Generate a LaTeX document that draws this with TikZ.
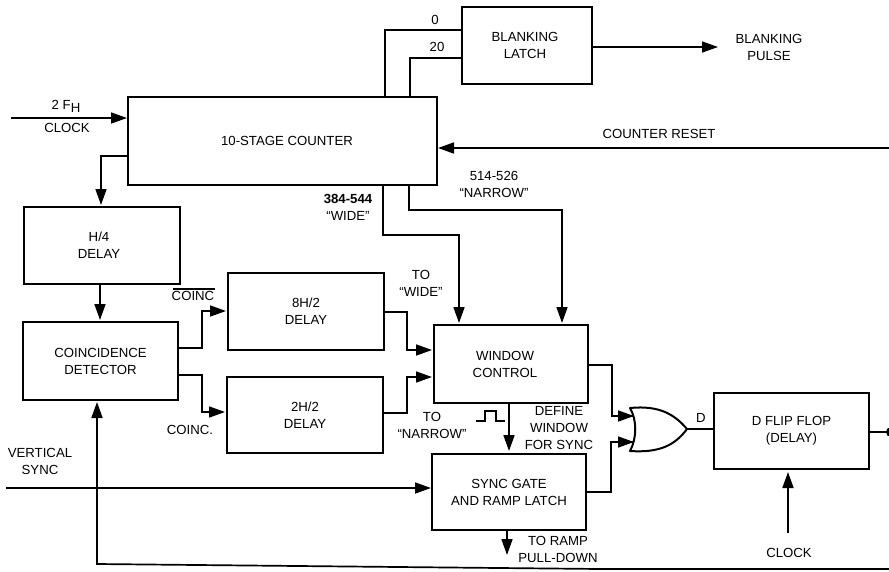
\documentclass[tikz,border=0pt]{standalone}
\usepackage{fontspec}
\setmainfont{Liberation Sans}
\usetikzlibrary{arrows.meta}
\tikzset{
 x=1pt,y=-1pt,
 wire/.style={line width=1.7pt,line join=miter},
 arr/.style={wire,-{Triangle[length=16pt,width=11pt]}},
 blk/.style={draw,line width=2pt,inner sep=0,anchor=north west,align=center,font=\fontsize{13.2}{17}\selectfont},
 lbl/.style={inner sep=0,align=center,font=\fontsize{13.2}{17}\selectfont},
}
\newcommand{\blkbox}[6]{\node[blk,minimum width=#4pt-#2pt,minimum height=#5pt-#3pt] (#1) at (#2,#3) {#6};}
\begin{document}
\begin{tikzpicture}
\useasboundingbox (0,0) rectangle (889,571);
\blkbox{cnt}{127}{96}{436}{184}{\hspace*{9pt}10-STAGE COUNTER}
\blkbox{bl}{461}{6}{591}{83}{\hspace*{-4pt}BLANKING\\\hspace*{-4pt}LATCH}
\blkbox{h4}{23}{206}{179}{283}{\hspace*{-6pt}H/4\\\hspace*{-6pt}DELAY}
\blkbox{cd}{22}{321}{177}{399}{COINCIDENCE\\DETECTOR}
\blkbox{d8}{227}{272}{383}{349}{8H/2\\DELAY}
\blkbox{d2}{226}{376}{382}{452}{2H/2\\DELAY}
\blkbox{wc}{433}{324}{587}{402}{\hspace*{-12pt}WINDOW\\\hspace*{-12pt}CONTROL}
\blkbox{sg}{431}{453}{585}{529}{SYNC GATE\\AND RAMP LATCH}
\blkbox{ff}{713}{392}{868}{468}{D FLIP FLOP\\(DELAY)}
% OR gate
\coordinate (ortip) at (687,429);
\coordinate (ora) at (634,416);
\coordinate (orb) at (634,442);
\draw[line width=2pt,line join=round] (630,408) .. controls (637,420) and (637,438) .. (630,451)
  .. controls (660,453) and (675,445) .. (ortip)
  .. controls (675,415) and (660,405) .. cycle;
% free ends
\coordinate (clkin) at (11,118);
\coordinate (blout) at (718,47);
\coordinate (rstin) at (889,148);
\coordinate (vsin) at (6,488);
\coordinate (clkb) at (788,533);
\coordinate (clktip) at (788,472);
\coordinate (rampo) at (507,555);
\coordinate (ffo) at (888,432);
\coordinate (fbr) at (889,569);
\coordinate (fbm) at (600,569);
\coordinate (fbl) at (97,564);
\coordinate (fbtip) at (97,402);
% wires
\draw[arr] (clkin) -- (cnt.west |- clkin);
\draw[wire] (385,96) |- (bl.west |- 0,30);
\draw[wire] (410,96) |- (bl.west |- 0,58);
\draw[arr] (bl.east |- blout) -- (blout);
\draw[arr] (rstin) -- (cnt.east |- rstin);
\draw[arr] (cnt.west |- 0,156) -| (101,205);
\draw[arr] (100,283) -- (100,320);
\draw[arr] (383,184) |- (459,235) -- (459,323);
\draw[arr] (409,184) |- (562,210) -- (562,323);
\draw[wire] (177,348) -- (202,348) |- (212,311);
\draw[arr] (202,311) -- (226,311);
\draw[wire] (177,375) -- (202,375) |- (212,412);
\draw[arr] (202,412) -- (225,412);
\draw[wire] (383,312) -- (407,312) |- (417,350);
\draw[arr] (407,350) -- (432,350);
\draw[wire] (382,413) -- (407,413) |- (417,377);
\draw[arr] (407,377) -- (432,377);
\draw[wire] (587,365) -- (612,365) |- (ora);
\draw[arr] (612,416) -- (ora);
\draw[wire] (585,492) -- (611,492) |- (orb);
\draw[arr] (611,442) -- (orb);
\draw[wire] (ortip) -- (ff.west |- ortip);
\draw[arr] (wc.south -| 509,0) -- (509,451);
\draw[arr] (vsin) -- (sg.west |- vsin);
\draw[arr] (sg.south -| rampo) -- (rampo);
\draw[arr] (clkb) -- (clktip);
\draw[wire] (ff.east |- ffo) -- (ffo);
\fill (891,432) circle (5pt);
\draw[arr] (fbr) -- (fbm) -- (fbl) -- (fbtip);
% pulse symbol
\draw[line width=1.1pt] (476,421) -- (485,421) -- (485,411) -- (496,411) -- (496,421) -- (505,421);
% labels
\node[lbl] at (66,106) {2 F\raisebox{-3pt}{H}};
\node[lbl] at (67,128) {CLOCK};
\node[lbl] at (435,20) {0};
\node[lbl] at (437,47) {20};
\node[lbl] at (659,134) {COUNTER RESET};
\node[lbl] at (494,184) {514-526\\``NARROW''};
\node[lbl] at (348,207) {\textbf{384-544}\\``WIDE''};
\node[lbl] at (769,47) {BLANKING\\PULSE};
\node[lbl] at (421,283) {TO\\``WIDE''};
\node[lbl] at (193,296) {COINC};
\draw[line width=1.1pt] (173,289) -- (215,289);
\node[lbl] at (190,430) {COINC.};
\node[lbl] at (432,425) {TO\\``NARROW''};
\node[lbl] at (559,428) {DEFINE\\WINDOW\\FOR SYNC};
\node[lbl] at (40,461) {VERTICAL\\SYNC};
\node[lbl] at (558,549) {TO RAMP\\PULL-DOWN};
\node[lbl] at (701,418) {D};
\node[lbl] at (789,553) {CLOCK};
\end{tikzpicture}
\end{document}
